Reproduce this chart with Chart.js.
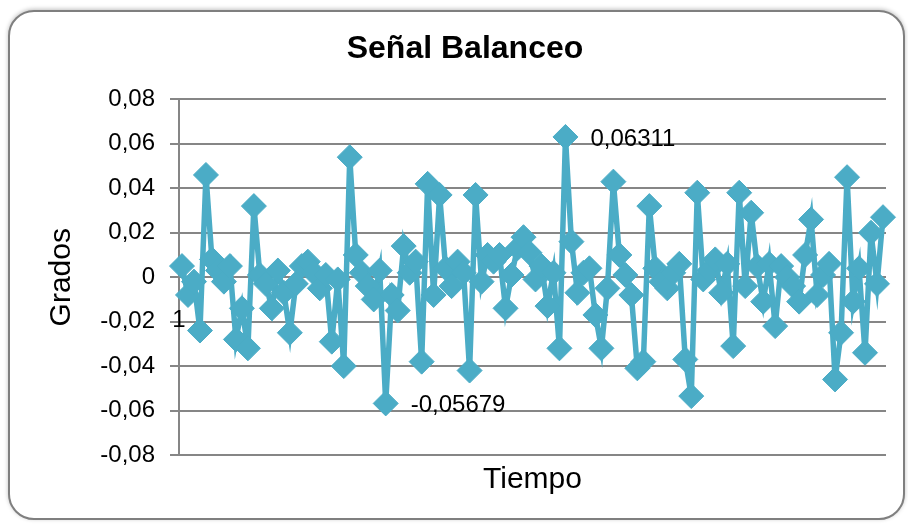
<!DOCTYPE html>
<html>
<head>
<meta charset="utf-8">
<script src="https://cdn.jsdelivr.net/npm/chart.js@4/dist/chart.umd.min.js"></script>
<style>
  html, body { margin: 0; padding: 0; background: #ffffff; }
  body { width: 908px; height: 525px; position: relative; overflow: hidden; }
  #frame {
    position: absolute; left: 8px; top: 10px; width: 893px; height: 506px;
    border: 2px solid #7f7f7f; border-radius: 26px;
    box-shadow: 0 -1px 4px rgba(0,0,0,0.25);
    background: #ffffff;
  }
  #c { position: absolute; left: 0; top: 0; }
</style>
</head>
<body>
<div id="frame"></div>
<canvas id="c" width="908" height="525"></canvas>
<script>
// Serie "Grados" (en orden temporal)
const grados = [
  0.005, -0.008, -0.002, -0.024, 0.046, 0.008, 0.003, -0.002, 0.005, -0.028,
  -0.014, -0.032, 0.032, 0.001, -0.003, -0.014, 0.003, -0.007, -0.025, -0.003,
  0.005, 0.007, 0.002, -0.005, 0.001, -0.029, -0.001, -0.040, 0.054, 0.010,
  0.002, -0.004, -0.010, 0.003, -0.05679, -0.008, -0.015, 0.014, 0.002, 0.007,
  -0.038, 0.042, -0.008, 0.037, 0.004, -0.004, 0.007, 0.002, -0.042, 0.037,
  -0.002, 0.010, 0.007, 0.010, -0.014, 0.001, 0.013, 0.018, 0.011, -0.001,
  0.005, -0.013, 0.002, -0.032, 0.06311, 0.016, -0.007, 0.002, 0.004, -0.017,
  -0.032, -0.005, 0.043, 0.010, 0.001, -0.008, -0.041, -0.038, 0.032, 0.004,
  -0.002, -0.005, 0.002, 0.006, -0.037, -0.0535, 0.038, -0.001, 0.003, 0.008,
  -0.007, 0.006, -0.031, 0.038, -0.004, 0.029, 0.005, -0.011, 0.006, -0.022,
  0.005, 0.000, -0.004, -0.011, 0.010, 0.026, -0.008, 0.001, 0.006, -0.046,
  -0.025, 0.045, -0.011, 0.004, -0.034, 0.020, -0.003, 0.027
];
// Categorías del eje "Tiempo" (número de muestra)
const tiempo = grados.map((_, i) => String(i + 1));
// Rango y paso del eje "Grados"
const yMin = -0.08;
const yMax = 0.08;
const yStep = 0.02;

const FONT = "'Liberation Sans', Arial, sans-serif";
const SERIES_COLOR = '#4BACC6';
const GRID_COLOR = '#868686';

function fmt(v) {
  if (Math.abs(v) < 1e-9) return '0';
  return v.toFixed(2).replace('.', ',');
}

const extraLabels = {
  id: 'extraLabels',
  afterDatasetsDraw(chart) {
    const ctx = chart.ctx;
    const meta = chart.getDatasetMeta(0);
    let iMax = 0, iMin = 0;
    grados.forEach((v, i) => { if (v > grados[iMax]) iMax = i; if (v < grados[iMin]) iMin = i; });
    ctx.save();
    ctx.font = '24px ' + FONT;
    ctx.fillStyle = '#000';
    ctx.textBaseline = 'middle';
    ctx.textAlign = 'left';
    [iMax, iMin].forEach(i => {
      const p = meta.data[i];
      ctx.fillText(String(grados[i]).replace('.', ','), p.x + 25, p.y + 2);
    });
    // first category label shown by the original chart
    ctx.textAlign = 'center';
    const ys = chart.scales.y;
    ctx.fillText(tiempo[0], chart.chartArea.left, ys.getPixelForValue(-0.02) - 1);
    ctx.restore();
  }
};

new Chart(document.getElementById('c'), {
  type: 'line',
  data: {
    labels: tiempo,
    datasets: [{
      label: 'Grados',
      data: grados,
      borderColor: SERIES_COLOR,
      backgroundColor: SERIES_COLOR,
      borderWidth: 5.5,
      tension: 0,
      pointStyle: 'rectRot',
      pointRadius: 12.5,
      pointBorderWidth: 1,
      pointBackgroundColor: SERIES_COLOR,
      pointBorderColor: SERIES_COLOR,
      fill: false
    }]
  },
  options: {
    responsive: false,
    animation: false,
    devicePixelRatio: 1,
    layout: { padding: { left: 44, right: 22, top: 10, bottom: 20 } },
    plugins: {
      legend: { display: false },
      tooltip: { enabled: false },
      title: {
        display: true,
        text: 'Señal Balanceo',
        color: '#000',
        font: { family: FONT, size: 32, weight: 'bold', lineHeight: 1.2 },
        padding: { top: 20, bottom: 31 }
      }
    },
    scales: {
      x: {
        type: 'category',
        offset: true,
        grid: { display: false, drawTicks: false },
        border: { display: false },
        ticks: { display: false },
        title: {
          display: true,
          text: 'Tiempo',
          color: '#000',
          font: { family: FONT, size: 30, lineHeight: 1.2 },
          padding: { top: 0, bottom: 7 }
        },
        afterFit(scale) { scale.height = 50; }
      },
      y: {
        min: yMin,
        max: yMax,
        ticks: {
          stepSize: yStep,
          color: '#000',
          padding: 15,
          font: { family: FONT, size: 24 },
          callback: (v) => fmt(v)
        },
        grid: { color: GRID_COLOR, lineWidth: 2, tickLength: 9, tickColor: GRID_COLOR },
        border: { display: true, color: GRID_COLOR, width: 2 },
        title: {
          display: true,
          text: 'Grados',
          color: '#000',
          font: { family: FONT, size: 30, lineHeight: 1.2 },
          padding: { top: 0, bottom: 0 }
        },
        afterFit(scale) { scale.width = 135; }
      }
    }
  },
  plugins: [extraLabels]
});
</script>
</body>
</html>
